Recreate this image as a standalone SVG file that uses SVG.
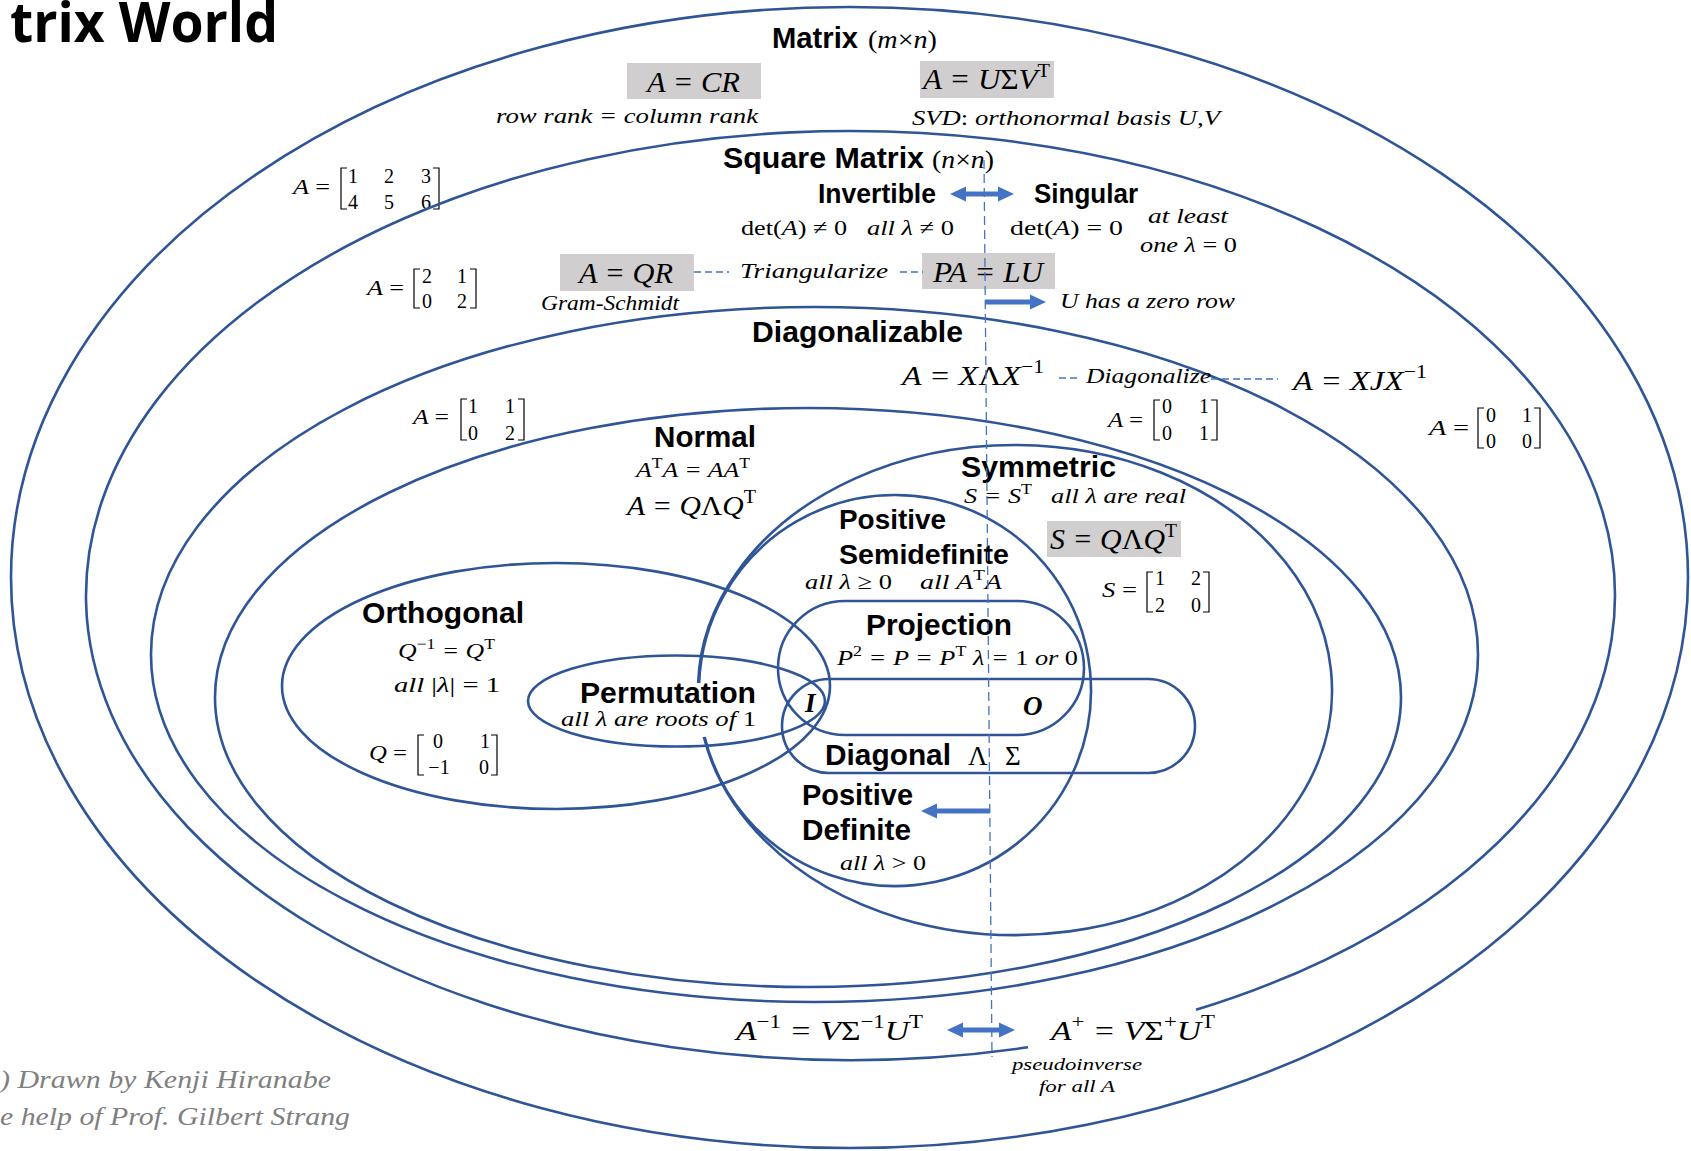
<svg xmlns="http://www.w3.org/2000/svg" width="1691" height="1151" viewBox="0 0 1691 1151">
<defs>
<style>
.set{fill:none;stroke:#2f5597;stroke-width:2.6}
.lbl{font-family:"Liberation Sans",Arial,sans-serif;font-weight:bold;font-size:30px;fill:#000}
.m{font-family:"Liberation Serif","DejaVu Serif",serif;font-style:italic;font-size:22px;fill:#000}
.big{font-size:29px}
.f28{font-size:28px}
.u{font-style:normal}
.d{font-family:"Liberation Serif","DejaVu Serif",serif;font-size:20px;text-anchor:middle;fill:#000}
.br{fill:none;stroke:#000;stroke-width:1.2}
.box{fill:#d0cece}
.dash{fill:none;stroke:#4472c4;stroke-width:1.3;stroke-dasharray:7 4}
.arr{fill:none;stroke:#4472c4;stroke-width:5}
.credit{font-family:"Liberation Serif",serif;font-style:italic;font-size:26px;fill:#7f7f7f}
.sym{font-family:"Liberation Serif","DejaVu Serif",serif;font-weight:bold;font-style:italic;font-size:27px;fill:#000}
</style>
<marker id="ah" markerUnits="userSpaceOnUse" markerWidth="16" markerHeight="16" viewBox="0 0 16 16" refX="0" refY="8" orient="auto-start-reverse"><path d="M0,0.5 L16,8 L0,15.5 Z" fill="#4472c4"/></marker>
</defs>
<rect width="1691" height="1151" fill="#fff"/>

<g id="title">
<text x="10" y="42" font-family="Open Sans, Liberation Sans, sans-serif" font-weight="bold" font-size="56" textLength="268" lengthAdjust="spacingAndGlyphs">trix World</text>
</g>

<g id="credits">
<text class="credit" x="0" y="1088" textLength="331" lengthAdjust="spacingAndGlyphs">) Drawn by Kenji Hiranabe</text>
<text class="credit" x="0" y="1125" textLength="350" lengthAdjust="spacingAndGlyphs">e help of Prof. Gilbert Strang</text>
</g>

<g id="node-matrix">
<ellipse class="set" cx="849.5" cy="577.5" rx="838.5" ry="570.5"/>
<text class="lbl" style="font-size:29px" x="772" y="48" textLength="86" lengthAdjust="spacingAndGlyphs">Matrix</text>
<text class="m" style="font-size:25px" x="868" y="48" textLength="69" lengthAdjust="spacingAndGlyphs"><tspan class="u">(</tspan>m<tspan class="u">×</tspan>n<tspan class="u">)</tspan></text>
<rect class="box" x="627" y="63" width="134" height="36"/>
<text class="m big" x="647" y="92" textLength="93" lengthAdjust="spacingAndGlyphs">A = CR</text>
<text class="m" x="496" y="123" textLength="262" lengthAdjust="spacingAndGlyphs">row rank = column rank</text>
<rect class="box" x="920" y="61" width="134" height="37"/>
<text class="m big" x="923" y="89" textLength="127" lengthAdjust="spacingAndGlyphs">A = U<tspan class="u">Σ</tspan>V<tspan class="u" font-size="19" dy="-12">T</tspan></text>
<text class="m" x="912" y="125" textLength="308" lengthAdjust="spacingAndGlyphs">SVD<tspan class="u">:</tspan>  orthonormal basis U,V</text>
<g id="ex-matrix-23">
<text class="m" x="293" y="194" textLength="37" lengthAdjust="spacingAndGlyphs">A <tspan class="u">=</tspan></text>
<path class="br" d="M347,168 L341,168 L341,209 L347,209 M433,168 L439,168 L439,209 L433,209"/>
<text class="d" x="353" y="183">1</text><text class="d" x="389" y="183">2</text><text class="d" x="426" y="183">3</text>
<text class="d" x="353" y="209">4</text><text class="d" x="389" y="209">5</text><text class="d" x="426" y="209">6</text>
</g>
<text class="m f28" x="1051" y="1040" textLength="164" lengthAdjust="spacingAndGlyphs">A<tspan class="u" font-size="19" dy="-12">+</tspan><tspan dy="12"> = V</tspan><tspan class="u">Σ</tspan><tspan class="u" font-size="19" dy="-12">+</tspan><tspan dy="12">U</tspan><tspan class="u" font-size="19" dy="-12">T</tspan></text>
<text class="m" style="font-size:17px" x="1012" y="1070" textLength="130" lengthAdjust="spacingAndGlyphs">pseudoinverse</text>
<text class="m" style="font-size:17px" x="1039" y="1092" textLength="76" lengthAdjust="spacingAndGlyphs">for all A</text>
</g>

<g id="node-square">
<path class="set" d="M1196,1009.86 A764.5,464.5 0 1 0 1028,1047.31"/>
<text class="lbl" x="723" y="168" textLength="201" lengthAdjust="spacingAndGlyphs">Square Matrix</text>
<text class="m" style="font-size:25px" x="932" y="168" textLength="62" lengthAdjust="spacingAndGlyphs"><tspan class="u">(</tspan>n<tspan class="u">×</tspan>n<tspan class="u">)</tspan></text>
<text class="lbl" style="font-size:27px" x="818" y="203" textLength="118" lengthAdjust="spacingAndGlyphs">Invertible</text>
<text class="lbl" style="font-size:27px" x="1034" y="203" textLength="104" lengthAdjust="spacingAndGlyphs">Singular</text>
<text class="m" x="741" y="235" textLength="106" lengthAdjust="spacingAndGlyphs"><tspan class="u">det(</tspan>A<tspan class="u">) ≠ 0</tspan></text>
<text class="m" x="867" y="235" textLength="87" lengthAdjust="spacingAndGlyphs">all λ <tspan class="u">≠ 0</tspan></text>
<text class="m" x="1010" y="235" textLength="113" lengthAdjust="spacingAndGlyphs"><tspan class="u">det(</tspan>A<tspan class="u">)  = 0</tspan></text>
<text class="m" x="1148" y="223" textLength="80" lengthAdjust="spacingAndGlyphs">at least</text>
<text class="m" x="1140" y="252" textLength="97" lengthAdjust="spacingAndGlyphs">one λ <tspan class="u">= 0</tspan></text>
<rect class="box" x="560" y="254" width="134" height="37"/>
<text class="m big" x="579" y="283" textLength="94" lengthAdjust="spacingAndGlyphs">A = QR</text>
<text class="m" style="font-size:20px" x="541" y="310" textLength="138" lengthAdjust="spacingAndGlyphs">Gram-Schmidt</text>
<text class="m" x="740" y="278" textLength="148" lengthAdjust="spacingAndGlyphs">Triangularize</text>
<rect class="box" x="922" y="253" width="133" height="36"/>
<text class="m big" x="933" y="282" textLength="110" lengthAdjust="spacingAndGlyphs">PA = LU</text>
<text class="m" x="1060" y="308" textLength="175" lengthAdjust="spacingAndGlyphs">U has a zero row</text>
<g id="ex-square">
<text class="m" x="367" y="295" textLength="37" lengthAdjust="spacingAndGlyphs">A <tspan class="u">=</tspan></text>
<path class="br" d="M420,269 L414,269 L414,308 L420,308 M470,269 L476,269 L476,308 L470,308"/>
<text class="d" x="427" y="283">2</text><text class="d" x="462" y="283">1</text>
<text class="d" x="427" y="308">0</text><text class="d" x="462" y="308">2</text>
</g>
<g id="ex-singular">
<text class="m" x="1429" y="435" textLength="40" lengthAdjust="spacingAndGlyphs">A <tspan class="u">=</tspan></text>
<path class="br" d="M1484,408 L1478,408 L1478,448 L1484,448 M1534,408 L1540,408 L1540,448 L1534,448"/>
<text class="d" x="1491" y="422">0</text><text class="d" x="1527" y="422">1</text>
<text class="d" x="1491" y="448">0</text><text class="d" x="1527" y="448">0</text>
</g>
<text class="m f28" x="736" y="1040" textLength="187" lengthAdjust="spacingAndGlyphs">A<tspan class="u" font-size="19" dy="-12">−1</tspan><tspan dy="12"> = V</tspan><tspan class="u">Σ</tspan><tspan class="u" font-size="19" dy="-12">−1</tspan><tspan dy="12">U</tspan><tspan class="u" font-size="19" dy="-12">T</tspan></text>
</g>

<g id="node-diagonalizable">
<ellipse class="set" cx="814.5" cy="654.5" rx="663.5" ry="347.5"/>
<text class="lbl" x="752" y="342" textLength="211" lengthAdjust="spacingAndGlyphs">Diagonalizable</text>
<text class="m f28" x="902" y="385" textLength="142" lengthAdjust="spacingAndGlyphs">A = X<tspan class="u">Λ</tspan>X<tspan class="u" font-size="19" dy="-12">−1</tspan></text>
<text class="m" x="1086" y="383" textLength="125" lengthAdjust="spacingAndGlyphs">Diagonalize</text>
<text class="m f28" x="1293" y="390" textLength="134" lengthAdjust="spacingAndGlyphs">A = XJX<tspan class="u" font-size="19" dy="-12">−1</tspan></text>
<g id="ex-diag-1">
<text class="m" x="413" y="424" textLength="36" lengthAdjust="spacingAndGlyphs">A <tspan class="u">=</tspan></text>
<path class="br" d="M467,399 L461,399 L461,440 L467,440 M518,399 L524,399 L524,440 L518,440"/>
<text class="d" x="473" y="413">1</text><text class="d" x="510" y="413">1</text>
<text class="d" x="473" y="440">0</text><text class="d" x="510" y="440">2</text>
</g>
<g id="ex-diag-2">
<text class="m" x="1108" y="427" textLength="35" lengthAdjust="spacingAndGlyphs">A <tspan class="u">=</tspan></text>
<path class="br" d="M1160,400 L1154,400 L1154,440 L1160,440 M1211,400 L1217,400 L1217,440 L1211,440"/>
<text class="d" x="1167" y="413">0</text><text class="d" x="1204" y="413">1</text>
<text class="d" x="1167" y="440">0</text><text class="d" x="1204" y="440">1</text>
</g>
</g>

<g id="node-normal">
<ellipse class="set" cx="808" cy="697.5" rx="593" ry="289.5"/>
<text class="lbl" x="654" y="447" textLength="102" lengthAdjust="spacingAndGlyphs">Normal</text>
<text class="m" x="636" y="477" textLength="114" lengthAdjust="spacingAndGlyphs">A<tspan class="u" font-size="15" dy="-9">T</tspan><tspan dy="9">A = AA</tspan><tspan class="u" font-size="15" dy="-9">T</tspan></text>
<text class="m f28" x="627" y="515" textLength="129" lengthAdjust="spacingAndGlyphs">A = Q<tspan class="u">Λ</tspan>Q<tspan class="u" font-size="19" dy="-12">T</tspan></text>
</g>

<g id="node-symmetric">
<path class="set" d="M698.13,683 A317,245 0 1 1 703.89,737"/>
<text class="lbl" x="961" y="477" textLength="155" lengthAdjust="spacingAndGlyphs">Symmetric</text>
<text class="m" x="964" y="503" textLength="68" lengthAdjust="spacingAndGlyphs">S = S<tspan class="u" font-size="15" dy="-9">T</tspan></text>
<text class="m" x="1051" y="503" textLength="135" lengthAdjust="spacingAndGlyphs">all λ are real</text>
<rect class="box" x="1047" y="521" width="134" height="36"/>
<text class="m big" x="1050" y="549" textLength="127" lengthAdjust="spacingAndGlyphs">S = Q<tspan class="u">Λ</tspan>Q<tspan class="u" font-size="19" dy="-12">T</tspan></text>
<g id="ex-symmetric">
<text class="m" x="1102" y="597" textLength="35" lengthAdjust="spacingAndGlyphs">S <tspan class="u">=</tspan></text>
<path class="br" d="M1153,572 L1147,572 L1147,612 L1153,612 M1203,572 L1209,572 L1209,612 L1203,612"/>
<text class="d" x="1160" y="585">1</text><text class="d" x="1196" y="585">2</text>
<text class="d" x="1160" y="612">2</text><text class="d" x="1196" y="612">0</text>
</g>
</g>

<g id="node-psd">
<path class="set" d="M699.14,683 A196,195.5 0 1 1 704.62,737"/>
<text class="lbl" style="font-size:28.5px" x="839" y="529" textLength="107" lengthAdjust="spacingAndGlyphs">Positive</text>
<text class="lbl" style="font-size:28.5px" x="839" y="564" textLength="170" lengthAdjust="spacingAndGlyphs">Semidefinite</text>
<text class="m" x="805" y="589" textLength="87" lengthAdjust="spacingAndGlyphs">all λ <tspan class="u">≥ 0</tspan></text>
<text class="m" x="920" y="589" textLength="82" lengthAdjust="spacingAndGlyphs">all A<tspan class="u" font-size="15" dy="-9">T</tspan><tspan dy="9">A</tspan></text>
</g>

<g id="node-projection">
<rect class="set" x="778" y="601" width="306" height="134" rx="67" ry="67"/>
<text class="lbl" x="866" y="635" textLength="146" lengthAdjust="spacingAndGlyphs">Projection</text>
<text class="m" x="837" y="665" textLength="241" lengthAdjust="spacingAndGlyphs">P<tspan class="u" font-size="15" dy="-9">2</tspan><tspan dy="9"> = P = P</tspan><tspan class="u" font-size="15" dy="-9">T</tspan><tspan dy="9"> λ = </tspan><tspan class="u">1</tspan> or <tspan class="u">0</tspan></text>
<text class="sym" x="1023" y="715">O</text>
</g>

<g id="node-diagonal">
<rect class="set" x="782" y="679" width="413" height="94" rx="47" ry="47"/>
<text class="lbl" x="825" y="765" textLength="126" lengthAdjust="spacingAndGlyphs">Diagonal</text>
<text class="m u" style="font-size:27px" x="968" y="765">Λ</text>
<text class="m u" style="font-size:27px" x="1005" y="765">Σ</text>
<text class="sym" x="805" y="712">I</text>
</g>

<g id="node-orthogonal">
<ellipse class="set" cx="556" cy="686" rx="274" ry="123"/>
<text class="lbl" x="362" y="623" textLength="162" lengthAdjust="spacingAndGlyphs">Orthogonal</text>
<text class="m" x="398" y="658" textLength="97" lengthAdjust="spacingAndGlyphs">Q<tspan class="u" font-size="15" dy="-9">−1</tspan><tspan dy="9"> = Q</tspan><tspan class="u" font-size="15" dy="-9">T</tspan></text>
<text class="m" x="394" y="692" textLength="106" lengthAdjust="spacingAndGlyphs">all  <tspan class="u">|</tspan>λ<tspan class="u">| = 1</tspan></text>
<g id="ex-orthogonal">
<text class="m" x="369" y="760" textLength="38" lengthAdjust="spacingAndGlyphs">Q <tspan class="u">=</tspan></text>
<path class="br" d="M424,735 L418,735 L418,775 L424,775 M491,735 L497,735 L497,775 L491,775"/>
<text class="d" x="438" y="748">0</text><text class="d" x="485" y="748">1</text>
<text class="d" x="439" y="774">−1</text><text class="d" x="484" y="774">0</text>
</g>
</g>

<g id="node-permutation">
<ellipse class="set" cx="676.5" cy="701" rx="148.5" ry="45.5"/>
<text class="lbl" x="580" y="703" textLength="176" lengthAdjust="spacingAndGlyphs">Permutation</text>
<text class="m" x="561" y="726" textLength="195" lengthAdjust="spacingAndGlyphs">all  λ are roots of <tspan class="u">1</tspan></text>
</g>

<g id="node-pd">
<text class="lbl" style="font-size:29px" x="802" y="805" textLength="111" lengthAdjust="spacingAndGlyphs">Positive</text>
<text class="lbl" style="font-size:29px" x="802" y="840" textLength="109" lengthAdjust="spacingAndGlyphs">Definite</text>
<text class="m" x="840" y="870" textLength="86" lengthAdjust="spacingAndGlyphs">all λ <tspan class="u">&gt; 0</tspan></text>
</g>

<g id="connectors">
<line class="dash" x1="984" y1="160" x2="992" y2="1057" style="stroke-dasharray:9 5"/>
<line class="dash" x1="694" y1="272" x2="729" y2="272"/>
<line class="dash" x1="900" y1="272" x2="923" y2="272"/>
<line class="dash" x1="1059" y1="378" x2="1078" y2="378"/>
<line class="dash" x1="1211" y1="379" x2="1278" y2="379"/>
<line class="arr" x1="966" y1="194" x2="998" y2="194" marker-start="url(#ah)" marker-end="url(#ah)"/>
<line class="arr" x1="985" y1="302" x2="1030" y2="302" marker-end="url(#ah)"/>
<line class="arr" x1="990" y1="811" x2="937" y2="811" marker-end="url(#ah)"/>
<line class="arr" x1="963" y1="1030" x2="999" y2="1030" marker-start="url(#ah)" marker-end="url(#ah)"/>
</g>
</svg>
